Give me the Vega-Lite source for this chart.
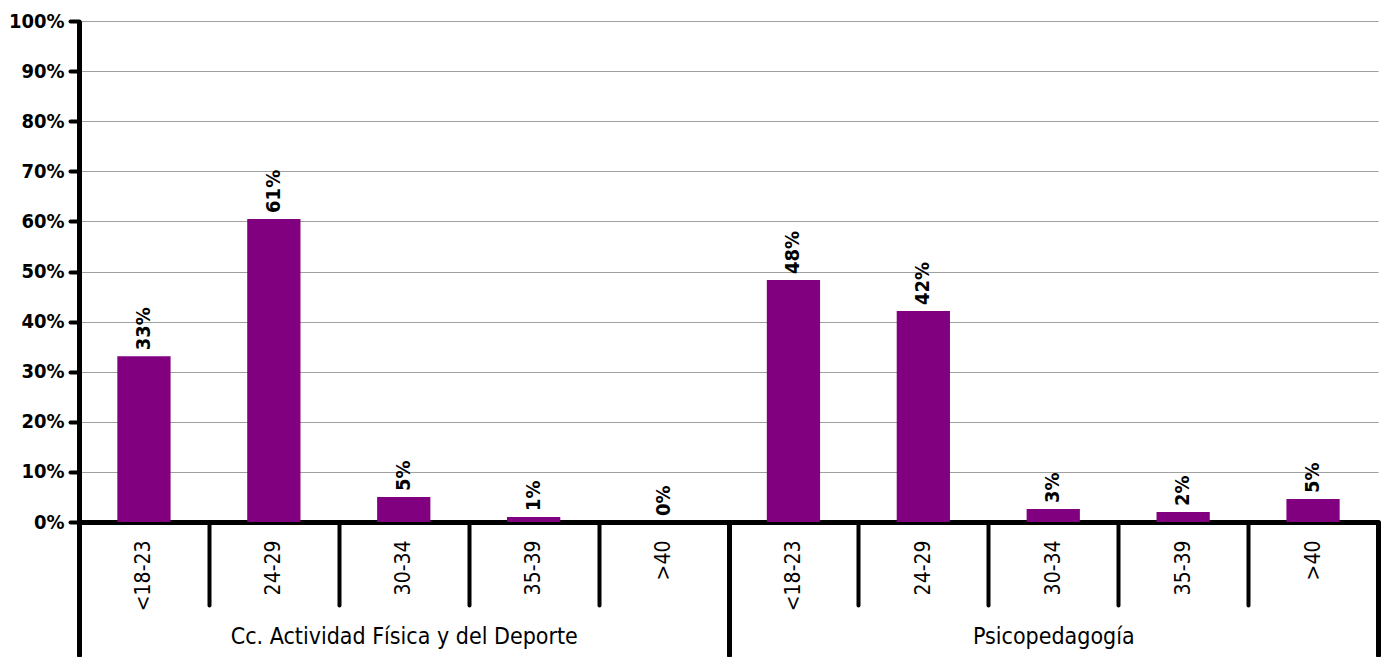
{
  "$schema": "https://vega.github.io/schema/vega-lite/v6.json",
  "width": 1299,
  "height": 501,
  "autosize": {"type": "none"},
  "padding": {"left": 79, "top": 21, "right": 10, "bottom": 135},
  "background": "white",
  "config": {"view": {"stroke": null}, "font": "DejaVu Sans Condensed, Liberation Sans, sans-serif"},
  "data": {
    "values": [
      {"group": "Cc. Actividad Física y del Deporte", "age": "<18-23", "key": "A|<18-23", "value": 0.331},
      {"group": "Cc. Actividad Física y del Deporte", "age": "24-29", "key": "A|24-29", "value": 0.605},
      {"group": "Cc. Actividad Física y del Deporte", "age": "30-34", "key": "A|30-34", "value": 0.05},
      {"group": "Cc. Actividad Física y del Deporte", "age": "35-39", "key": "A|35-39", "value": 0.01},
      {"group": "Cc. Actividad Física y del Deporte", "age": ">40", "key": "A|>40", "value": 0.0},
      {"group": "Psicopedagogía", "age": "<18-23", "key": "B|<18-23", "value": 0.483},
      {"group": "Psicopedagogía", "age": "24-29", "key": "B|24-29", "value": 0.421},
      {"group": "Psicopedagogía", "age": "30-34", "key": "B|30-34", "value": 0.026},
      {"group": "Psicopedagogía", "age": "35-39", "key": "B|35-39", "value": 0.02},
      {"group": "Psicopedagogía", "age": ">40", "key": "B|>40", "value": 0.046}
    ]
  },
  "layer": [
    {
      "layer": [
        {
          "mark": {"type": "bar", "color": "#800080", "width": {"band": 0.41}},
          "encoding": {
            "x": {
              "field": "key", "type": "nominal", "sort": null,
              "scale": {"paddingInner": 0, "paddingOuter": 0},
              "axis": {
                "title": null,
                "labelExpr": "split(datum.value, '|')[1]",
                "labelAngle": -90,
                "tickBand": "extent",
                "tickSize": 83,
                "tickWidth": 4,
                "tickColor": "black",
                "tickCap": "round",
                "domainColor": "black",
                "domainWidth": 5,
                "labelPadding": -65,
                "labelFontSize": 21,
                "labelColor": "black",
                "labelOverlap": false,
                "labelBound": false
              }
            },
            "y": {
              "field": "value", "type": "quantitative",
              "scale": {"domain": [0, 1]},
              "axis": {
                "title": null,
                "format": ".0%",
                "values": [0, 0.1, 0.2, 0.3, 0.4, 0.5, 0.6, 0.7, 0.8, 0.9, 1],
                "grid": true,
                "gridColor": "#a0a0a0",
                "gridWidth": 1,
                "domainColor": "black",
                "domainWidth": 5,
                "tickColor": "black",
                "tickWidth": 4,
                "tickSize": 9,
                "tickCap": "round",
                "labelFontSize": 20,
                "labelFontWeight": "bold",
                "labelColor": "black",
                "labelPadding": 6
              }
            }
          }
        },
        {
          "mark": {"type": "text", "angle": 270, "align": "left", "baseline": "middle", "dx": 6, "fontSize": 20, "fontWeight": "bold", "color": "black"},
          "encoding": {
            "x": {"field": "key", "type": "nominal", "sort": null},
            "y": {"field": "value", "type": "quantitative"},
            "text": {"field": "value", "type": "quantitative", "format": ".0%"}
          }
        }
      ]
    },
    {
      "mark": {"type": "bar", "opacity": 0},
      "encoding": {
        "x": {
          "field": "group", "type": "nominal", "sort": null,
          "scale": {"paddingInner": 0, "paddingOuter": 0},
          "axis": {
            "orient": "bottom",
            "title": null,
            "labelAngle": 0,
            "tickBand": "extent",
            "tickSize": 133,
            "tickWidth": 5,
            "tickColor": "black",
            "tickCap": "round",
            "domain": false,
            "labelPadding": -30,
            "labelFontSize": 23,
            "labelColor": "black",
            "labelLimit": 0,
            "labelOverlap": false,
            "labelBound": false
          }
        },
        "y": {"field": "value", "type": "quantitative", "aggregate": "max", "axis": {"title": null}}
      }
    }
  ],
  "resolve": {"scale": {"x": "independent"}}
}
